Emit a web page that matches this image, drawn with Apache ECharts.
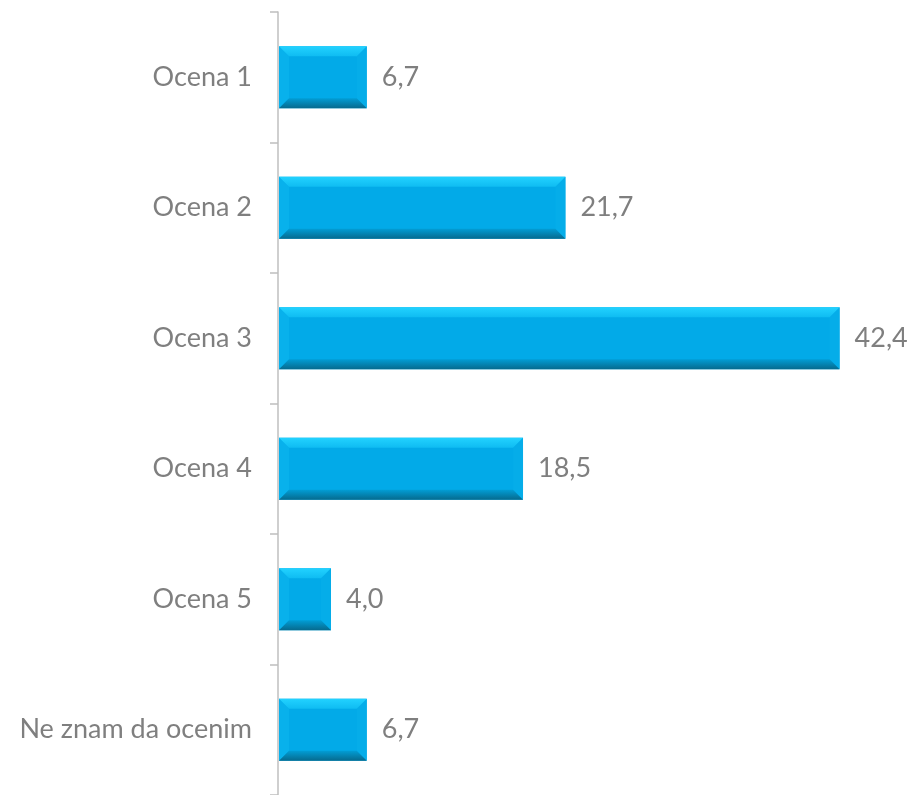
<!DOCTYPE html>
<html><head><meta charset="utf-8">
<script src="https://cdn.jsdelivr.net/npm/echarts@6/dist/echarts.min.js"></script>
<style>html,body{margin:0;padding:0;background:#fff}#c{width:915px;height:795px}</style>
</head><body><div id="c"></div>
<script>
const categories = ['Ocena 1','Ocena 2','Ocena 3','Ocena 4','Ocena 5','Ne znam da ocenim'];
const values = [6.7, 21.7, 42.4, 18.5, 4.0, 6.7];

const chart = echarts.init(document.getElementById('c'));
const FONT = 'Lato, "Open Sans", sans-serif';
const FS = 27;
const BAR_H = 62, BEV = 10;

function renderItem(params, api) {
  const cat = api.value(1), val = api.value(0);
  const s = api.coord([0, cat]), e = api.coord([val, cat]);
  const x0 = s[0] + 1, x1 = e[0], y0 = s[1] - BAR_H / 2, y1 = s[1] + BAR_H / 2;
  const b = Math.min(BEV, (x1 - x0) / 2);
  const poly = (pts, fill) => ({ type: 'polygon', shape: { points: pts }, style: { fill: fill } });
  return {
    type: 'group',
    children: [
      { type: 'rect', shape: { x: x0, y: y0, width: x1 - x0, height: y1 - y0 }, style: { fill: '#02aae8' } },
      poly([[x0, y0], [x0 + b, y0 + b], [x0 + b, y1 - b], [x0, y1]], '#08b1ec'),
      poly([[x1, y0], [x1 - b, y0 + b], [x1 - b, y1 - b], [x1, y1]], '#05ade9'),
      poly([[x0, y0], [x1, y0], [x1 - b, y0 + b], [x0 + b, y0 + b]],
        new echarts.graphic.LinearGradient(0, 0, 0, 1, [{ offset: 0, color: '#22d2ff' }, { offset: 1, color: '#0fbcf2' }])),
      poly([[x0, y1], [x1, y1], [x1 - b, y1 - b], [x0 + b, y1 - b]],
        new echarts.graphic.LinearGradient(0, 0, 0, 1, [{ offset: 0, color: '#029dd5' }, { offset: 1, color: '#066a8e' }])),
      { type: 'text', style: { x: x1 + 15, y: s[1], text: val.toFixed(1).replace('.', ','), fill: '#7f7f7f',
          font: FS + 'px ' + FONT, verticalAlign: 'middle', align: 'left' } }
    ]
  };
}

chart.setOption({
  animation: false,
  grid: { left: 278, right: 41, top: 12, bottom: -1, containLabel: false },
  xAxis: { type: 'value', min: 0, max: 45, show: false },
  yAxis: {
    type: 'category', data: categories, inverse: true,
    axisLine: { show: true, lineStyle: { color: '#bfbfbf', width: 1.5 } },
    axisTick: { show: true, length: 8, lineStyle: { color: '#bfbfbf', width: 1.5 } },
    axisLabel: { color: '#7f7f7f', fontSize: FS, fontFamily: FONT, margin: 26 },
    splitLine: { show: false }
  },
  series: [{
    type: 'custom', renderItem: renderItem,
    encode: { x: 0, y: 1 },
    data: values.map((v, i) => [v, i])
  }]
});
</script></body></html>
